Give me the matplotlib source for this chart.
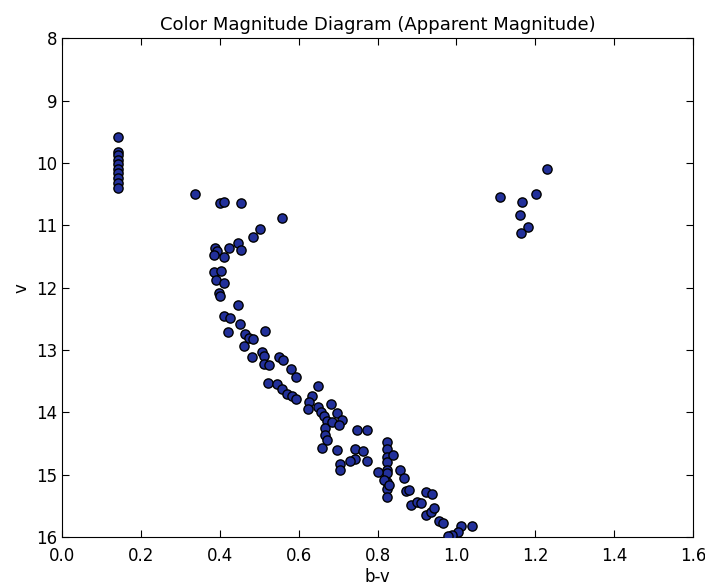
import numpy as np
import matplotlib.pyplot as plt

# ------------------------------
# Daten
# ------------------------------
# blaue Nachzuegler / senkrechte Reihe links
bv_blue = [0.143] * 10
v_blue = [9.58, 9.82, 9.88, 9.95, 10.02, 10.10, 10.17, 10.25, 10.32, 10.40]

# Hauptreihe + Abknickpunkt
bv_main = [0.337, 0.400, 0.410, 0.453, 0.557, 0.502, 0.484, 0.447, 0.455, 0.423,
           0.388, 0.394, 0.386, 0.410, 0.386, 0.402, 0.390, 0.410, 0.398, 0.401,
           0.447, 0.410, 0.425, 0.421, 0.450, 0.463, 0.473, 0.484, 0.461, 0.514,
           0.481, 0.506, 0.511, 0.512, 0.524, 0.551, 0.561, 0.580, 0.594, 0.523,
           0.545, 0.557, 0.570, 0.582, 0.593, 0.650, 0.635, 0.626, 0.623, 0.648,
           0.656, 0.665, 0.673, 0.668, 0.668, 0.673, 0.681, 0.698, 0.710, 0.685,
           0.702, 0.660, 0.698, 0.706, 0.706, 0.748, 0.773, 0.743, 0.764, 0.743,
           0.773, 0.731,
           0.823, 0.823, 0.823, 0.823, 0.823, 0.823, 0.823, 0.823, 0.823,
           0.840, 0.802, 0.817, 0.830,
           0.858, 0.867, 0.871, 0.879, 0.884, 0.901, 0.909, 0.922, 0.939, 0.922,
           0.935, 0.944, 0.957, 0.966, 1.011, 1.005, 0.990, 0.978, 1.039]
v_main = [10.50, 10.65, 10.63, 10.64, 10.88, 11.06, 11.19, 11.29, 11.39, 11.37,
          11.36, 11.42, 11.48, 11.51, 11.75, 11.73, 11.88, 11.93, 12.09, 12.13,
          12.28, 12.45, 12.48, 12.71, 12.59, 12.74, 12.80, 12.83, 12.93, 12.69,
          13.12, 13.04, 13.10, 13.23, 13.24, 13.12, 13.16, 13.31, 13.44, 13.53,
          13.55, 13.63, 13.70, 13.74, 13.78, 13.57, 13.73, 13.83, 13.95, 13.92,
          14.00, 14.06, 14.14, 14.25, 14.36, 14.44, 13.87, 14.01, 14.12, 14.15,
          14.20, 14.57, 14.61, 14.83, 14.93, 14.29, 14.29, 14.59, 14.62, 14.75,
          14.78, 14.78,
          14.47, 14.58, 14.71, 14.79, 14.93, 14.98, 15.12, 15.23, 15.36,
          14.69, 14.96, 15.09, 15.17,
          14.92, 15.05, 15.26, 15.24, 15.48, 15.43, 15.46, 15.27, 15.31, 15.65,
          15.59, 15.54, 15.74, 15.78, 15.82, 15.92, 15.96, 15.98, 15.82]

# Riesenast rechts oben
bv_giant = [1.229, 1.203, 1.111, 1.167, 1.162, 1.181, 1.165]
v_giant = [10.10, 10.50, 10.55, 10.63, 10.83, 11.03, 11.12]

bv = np.array(bv_blue + bv_main + bv_giant)
v = np.array(v_blue + v_main + v_giant)

# ------------------------------
# Farben-Helligkeits-Diagramm
# ------------------------------
fig = plt.figure(figsize=(7.05, 5.87), dpi=100)
ax = fig.add_axes([0.088, 0.085, 0.895, 0.85])
ax.scatter(bv, v, s=44, c='#22309a', edgecolors='black', linewidths=1.0, zorder=3)
ax.set_xlim(0.0, 1.6)
ax.set_ylim(16, 8)
ax.set_xticks(np.arange(0.0, 1.61, 0.2))
ax.set_yticks(np.arange(8, 17, 1))
ax.tick_params(direction='in', top=True, right=True, labelsize=12, length=5)
ax.tick_params(axis='x', pad=7)
ax.set_xlabel("b-v", fontsize=12, labelpad=2)
ax.set_ylabel("v", fontsize=12)
ax.set_title("Color Magnitude Diagram (Apparent Magnitude)", fontsize=13)

plt.savefig("out.png", dpi=100)
